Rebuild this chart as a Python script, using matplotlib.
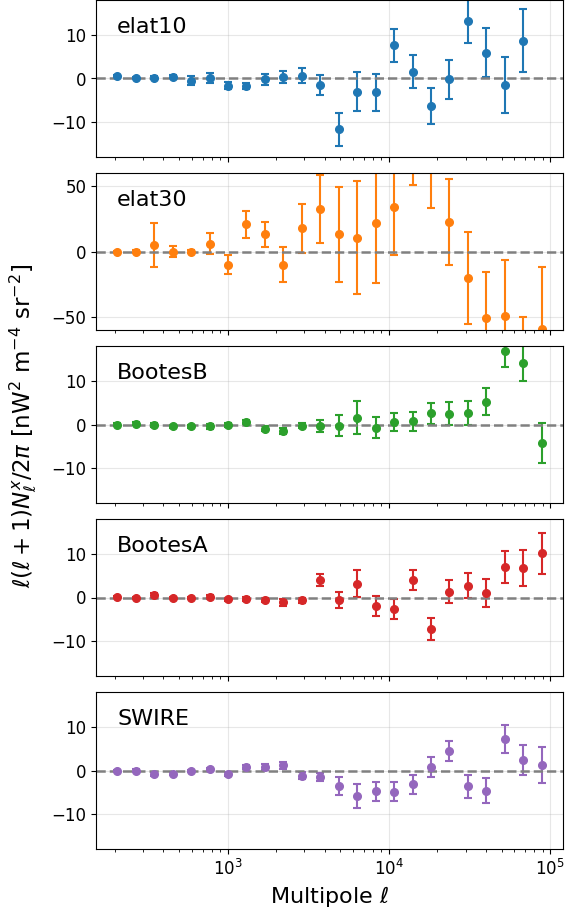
import numpy as np
import matplotlib
matplotlib.use('Agg')
import matplotlib.pyplot as plt

# Multipole bin centres
ell = [207, 270, 351, 457, 594, 773, 1006, 1310, 1705, 2219, 2888, 3758,
       4892, 6368, 8286, 10787, 14040, 18273, 23782, 30955, 40290, 52440,
       68230, 88820]

fields = ['elat10', 'elat30', 'BootesB', 'BootesA', 'SWIRE']

# elat10 has no value in the last bin
elat10_val = [0.5, 0.1, 0.2, 0.45, -0.5, 0.15, -1.7, -1.8, -0.2, 0.3, 0.6, -1.4,
              -11.6, -3.0, -3.2, 7.6, 1.6, -6.3, -0.2, 13.2, 5.9, -1.4, 8.7]
elat10_err = [0.4, 0.3, 0.3, 0.3, 1.1, 1.1, 0.8, 0.7, 1.3, 1.4, 1.7, 2.3,
              3.8, 4.5, 4.2, 3.75, 3.8, 4.1, 4.5, 5.0, 5.6, 6.4, 7.2]

elat30_val = [-0.5, 0.0, 4.8, 0.0, 0.0, 6.1, -10.0, 20.7, 13.3, -10.0, 17.6, 32.4,
              13.0, 10.7, 21.7, 34.0, 80.0, 70.0, 22.4, -20.2, -51.0, -49.5,
              -85.0, -59.0]
elat30_err = [1.0, 1.0, 16.7, 4.3, 1.0, 8.0, 7.2, 10.0, 9.6, 13.6, 18.5, 26.0,
              36.0, 43.0, 45.4, 37.0, 29.0, 37.0, 32.8, 35.3, 35.0, 43.0,
              35.0, 47.0]

bootesb_val = [0.0, 0.2, -0.15, -0.45, -0.4, -0.45, -0.15, 0.6, -1.0, -1.4, -0.25, -0.3,
               -0.25, 1.6, -0.7, 0.6, 0.75, 2.6, 2.5, 2.6, 5.2, 16.8, 14.1, -4.3]
bootesb_err = [0.3, 0.3, 0.4, 0.3, 0.3, 0.5, 0.4, 0.5, 0.6, 0.7, 0.6, 1.35,
               2.4, 3.7, 2.5, 2.1, 2.2, 2.4, 2.6, 2.8, 3.1, 3.6, 4.1, 4.6]

bootesa_val = [0.1, -0.1, 0.5, -0.1, -0.1, 0.15, -0.4, -0.3, -0.55, -1.1, -0.6, 4.0,
               -0.55, 3.2, -1.9, -2.7, 4.1, -7.3, 1.3, 2.75, 1.0, 7.0, 6.8, 10.1]
bootesa_err = [0.3, 0.3, 0.6, 0.3, 0.3, 0.4, 0.4, 0.4, 0.5, 0.8, 0.6, 1.4,
               1.9, 3.05, 2.3, 2.25, 2.3, 2.5, 2.65, 2.9, 3.2, 3.75, 4.2, 4.8]

swire_val = [-0.1, 0.0, -0.75, -0.7, -0.1, 0.25, -0.75, 0.75, 0.75, 1.15, -1.15, -1.4,
             -3.6, -5.9, -4.8, -4.85, -3.15, 0.75, 4.4, -3.6, -4.6, 7.3, 2.45, 1.3]
swire_err = [0.3, 0.3, 0.5, 0.4, 0.3, 0.4, 0.4, 0.5, 0.7, 0.8, 0.8, 0.9,
             2.0, 2.75, 2.2, 2.2, 2.2, 2.3, 2.3, 2.6, 2.9, 3.2, 3.4, 4.1]

values = [elat10_val, elat30_val, bootesb_val, bootesa_val, swire_val]
errors = [elat10_err, elat30_err, bootesb_err, bootesa_err, swire_err]
ylims = [(-18, 18), (-60, 60), (-18, 18), (-18, 18), (-18, 18)]

fig = plt.figure(figsize=(5.66, 9.13), dpi=100)

# panel bottoms in pixels from the top of the figure
H = 913.0
bottoms_px = [157, 330, 503, 676, 849]
panel_h = 157 / H
left = 96 / 566.0
width = 467 / 566.0

axes = []
for i, name in enumerate(fields):
    b = 1 - bottoms_px[i] / H
    ax = fig.add_axes([left, b, width, panel_h], sharex=axes[0] if axes else None)
    axes.append(ax)
    ax.set_xscale('log')
    x = ell[:len(values[i])]
    ax.errorbar(x, values[i], yerr=errors[i], fmt='o', color=f'C{i}',
                ms=5.5, capsize=3, elinewidth=1.5, capthick=1.5)
    ax.axhline(0, color='gray', ls='--', lw=1.8)
    ax.set_ylim(*ylims[i])
    ax.grid(True, alpha=0.3)
    ax.tick_params(labelsize=12)
    ax.text(0.045, 0.89, name, transform=ax.transAxes, fontsize=16, va='top')
    if i < len(fields) - 1:
        ax.tick_params(labelbottom=False)

# log-space 5% margins around the bin range
lo, hi = np.log10(ell[0]), np.log10(ell[-1])
pad = 0.05 * (hi - lo)
axes[0].set_xlim(10 ** (lo - pad), 10 ** (hi + pad))

axes[1].set_yticks([-50, 0, 50])
axes[-1].set_xlabel(r'Multipole $\ell$', fontsize=16)

fig.text(0.042, 1 - 426 / H,
         r'$\ell(\ell+1)N_\ell^x/2\pi$ [nW$^2$ m$^{-4}$ sr$^{-2}$]',
         rotation=90, va='center', ha='center', fontsize=16.5)

plt.savefig('out.png', dpi=100)
